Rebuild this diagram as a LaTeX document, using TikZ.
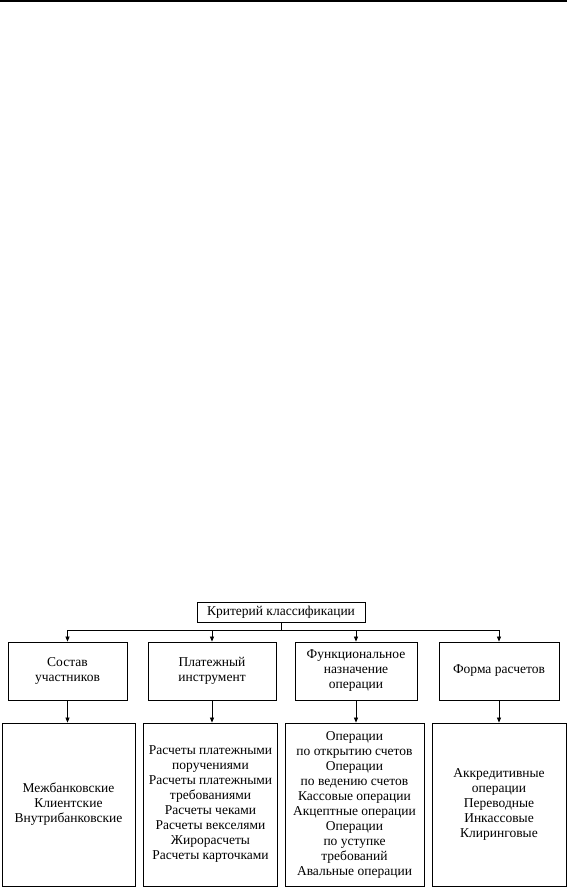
\documentclass[tikz,border=0pt]{standalone}
\usepackage{fontspec}
\setmainfont{Liberation Serif}
\usetikzlibrary{arrows.meta}
\begin{document}
\begin{tikzpicture}[x=1pt,y=1pt,
  box/.style={draw,line width=0.8pt,align=center,inner sep=0pt,
    font=\fontsize{13.5}{15}\selectfont},
  arr/.style={line width=0.8pt,-{Triangle[length=5pt,width=4pt]}},
  ln/.style={line width=0.8pt}]
\useasboundingbox (0,0) rectangle (567,888);
\draw[line width=1.6pt] (0,887) -- (567,887);
\node[box,minimum width=168,minimum height=20] (root) at (281,276) {Критерий классификации};
\node[box,minimum width=119,minimum height=58] (u1) at (67.5,217) {Состав\\участников};
\node[box,minimum width=128,minimum height=58] (u2) at (212,217) {Платежный\\инструмент};
\node[box,minimum width=122,minimum height=58] (u3) at (356,217) {Функциональное\\назначение\\операции};
\node[box,minimum width=120,minimum height=58] (u4) at (499,217) {Форма расчетов};
\node[box,minimum width=133,minimum height=163] (l1) at (68.5,83.5) {Межбанковские\\Клиентские\\Внутрибанковские};
\node[box,minimum width=134,minimum height=163] (l2) at (210.5,83.5) {Расчеты платежными\\поручениями\\Расчеты платежными\\требованиями\\Расчеты чеками\\Расчеты векселями\\Жирорасчеты\\Расчеты карточками};
\node[box,minimum width=139,minimum height=163] (l3) at (354.5,83.5) {Операции\\по открытию счетов\\Операции\\по ведению счетов\\Кассовые операции\\Акцептные операции\\Операции\\по уступке\\требований\\Авальные операции};
\node[box,minimum width=134,minimum height=163] (l4) at (499,83.5) {Аккредитивные\\операции\\Переводные\\Инкассовые\\Клиринговые};
\draw[ln] (root.south) -- ++(0,-8) coordinate (bus);
\draw[ln] (u1.north |- bus) -- (u4.north |- bus);
\foreach \u in {u1,u2,u3,u4} {\draw[arr] (\u.north |- bus) -- (\u.north);}
\draw[arr] (u1.south) -- (u1.south |- l1.north);
\draw[arr] (u2.south) -- (u2.south |- l2.north);
\draw[arr] (u3.south) -- (u3.south |- l3.north);
\draw[arr] (u4.south) -- (u4.south |- l4.north);
\end{tikzpicture}
\end{document}
